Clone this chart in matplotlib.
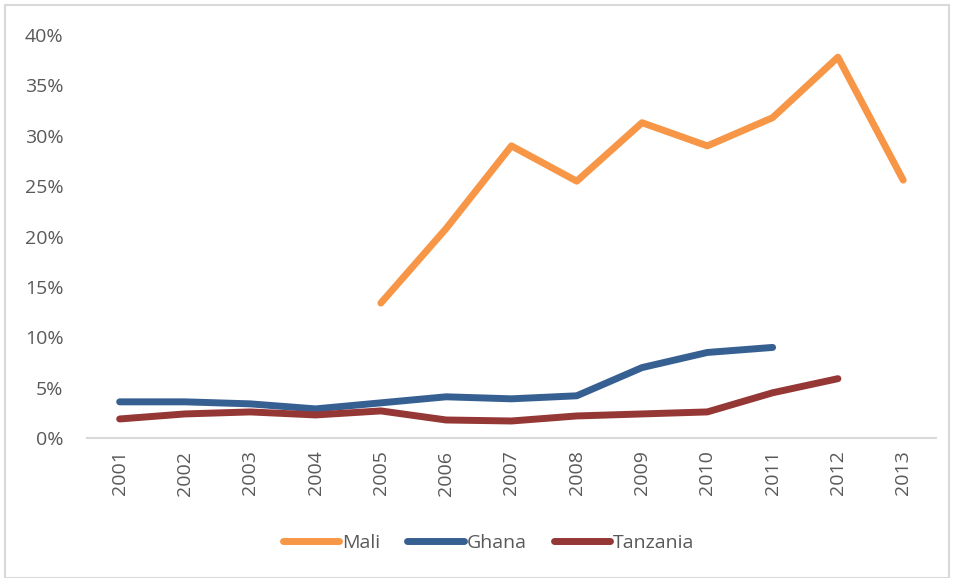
import numpy as np
import matplotlib.pyplot as plt
from matplotlib.patches import Rectangle
from matplotlib.ticker import PercentFormatter

plt.rcParams['font.family'] = ['Open Sans', 'DejaVu Sans']

years = ['2001', '2002', '2003', '2004', '2005', '2006', '2007',
         '2008', '2009', '2010', '2011', '2012', '2013']
nan = np.nan
mali = [nan, nan, nan, nan, 13.4, 20.8, 29.0, 25.5, 31.3, 29.0, 31.8, 37.8, 25.6]
ghana = [3.6, 3.6, 3.4, 2.9, 3.5, 4.1, 3.9, 4.2, 7.0, 8.5, 9.0, nan, nan]
tanzania = [1.9, 2.4, 2.6, 2.3, 2.7, 1.8, 1.7, 2.2, 2.4, 2.6, 4.5, 5.9, nan]

series = [('Mali', mali, '#F79646'),
          ('Ghana', ghana, '#376092'),
          ('Tanzania', tanzania, '#953735')]

text_color = '#595959'
axis_gray = '#D9D9D9'

fig = plt.figure(figsize=(9.54, 5.78), dpi=100)
ax = fig.add_axes([0.0912, 0.242, 0.8898, 0.6974])

x = np.arange(len(years))
for name, vals, color in series:
    ax.plot(x, np.array(vals) / 100, color=color, lw=5,
            solid_capstyle='round', solid_joinstyle='round', label=name)

ax.set_xlim(-0.5, len(years) - 0.5)
ax.set_ylim(0, 0.40)
ax.set_yticks(np.arange(0, 0.41, 0.05))
ax.yaxis.set_major_formatter(PercentFormatter(1.0, decimals=0))
ax.set_xticks(x)
ax.set_xticklabels(years, rotation=90)

for side in ['top', 'right', 'left']:
    ax.spines[side].set_visible(False)
ax.spines['bottom'].set_color(axis_gray)
ax.spines['bottom'].set_linewidth(1.5)
ax.tick_params(axis='both', length=0, colors=text_color, labelsize=14)
ax.tick_params(axis='y', pad=17)
ax.tick_params(axis='x', pad=9)

leg = fig.legend(loc='center', bbox_to_anchor=(0.512, 0.061), ncol=3,
                 frameon=False, fontsize=14, handlelength=2.9,
                 handletextpad=0.15, columnspacing=1.4)
for t in leg.get_texts():
    t.set_color(text_color)

# light chart border
fig.patches.append(Rectangle((0.005, 0.0), 0.99, 0.992, transform=fig.transFigure,
                             fill=False, edgecolor=axis_gray, lw=1.5))

fig.savefig('out.png', dpi=100)
